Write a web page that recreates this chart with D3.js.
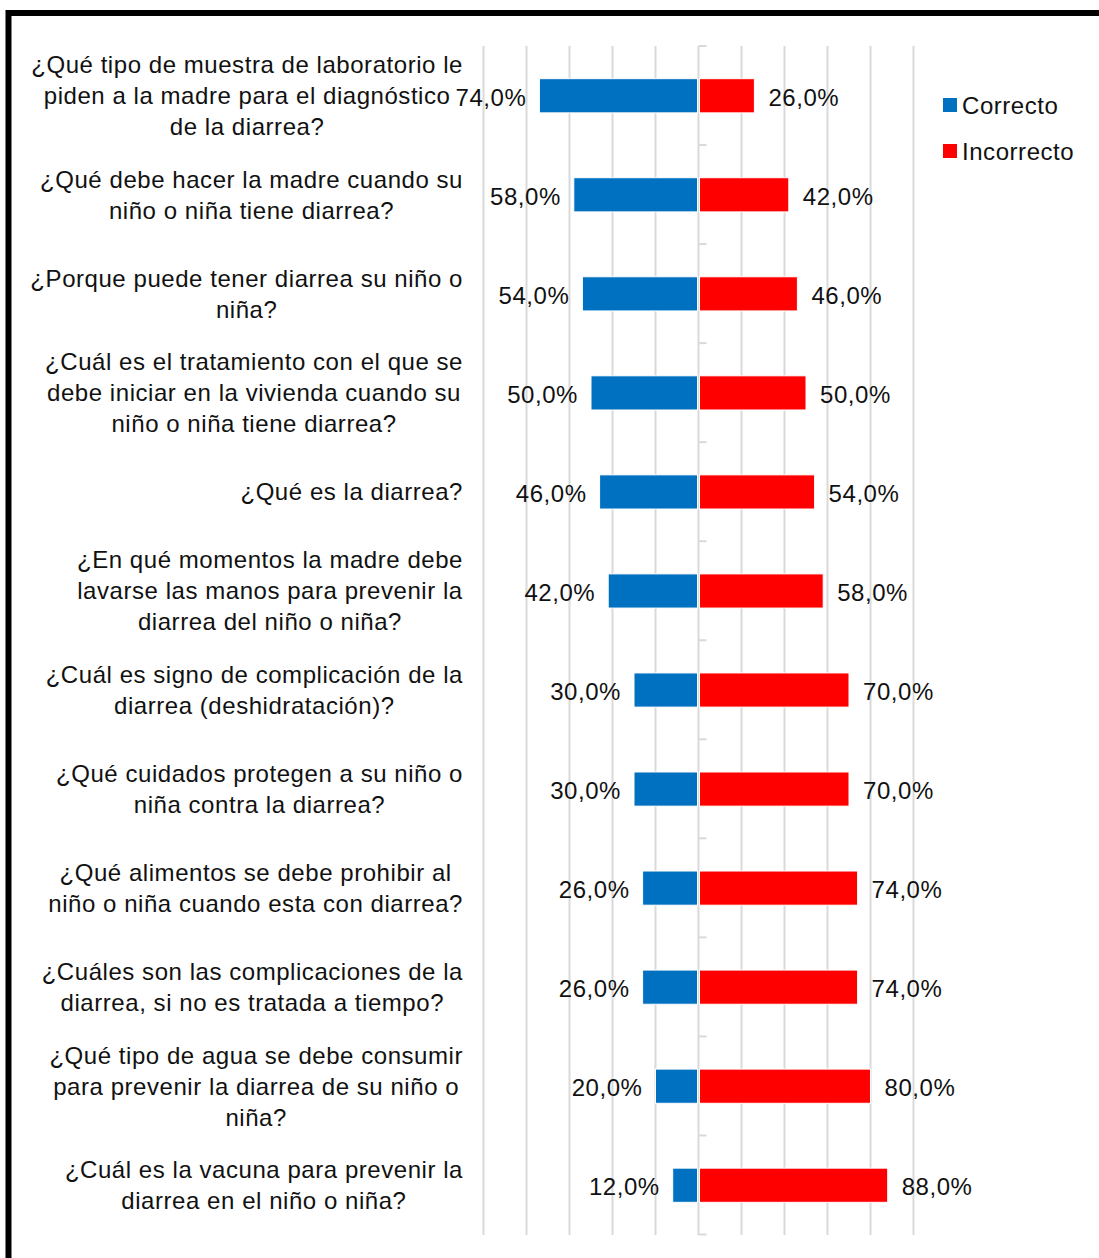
<!DOCTYPE html>
<html>
<head>
<meta charset="utf-8">
<script src="https://cdn.jsdelivr.net/npm/d3@7"></script>
<style>
  body { margin: 0; background: #fff; }
  text { font-family: "Liberation Sans", Arial, sans-serif; }
</style>
</head>
<body>
<div id="chart"></div>
<script>
// data
const questions = [
  ["¿Qué tipo de muestra de laboratorio le", "piden a la madre para el diagnóstico", "de la diarrea?"],
  ["¿Qué debe hacer la madre cuando su", "niño o niña tiene diarrea?"],
  ["¿Porque puede tener diarrea su niño o", "niña?"],
  ["¿Cuál es el tratamiento con el que se", "debe iniciar en la vivienda cuando su", "niño o niña tiene diarrea?"],
  ["¿Qué es la diarrea?"],
  ["¿En qué momentos la madre debe", "lavarse las manos para prevenir la", "diarrea del niño o niña?"],
  ["¿Cuál es signo de complicación de la", "diarrea (deshidratación)?"],
  ["¿Qué cuidados protegen a su niño o", "niña contra la diarrea?"],
  ["¿Qué alimentos se debe prohibir al", "niño o niña cuando esta con diarrea?"],
  ["¿Cuáles son las complicaciones de la", "diarrea, si no es tratada a tiempo?"],
  ["¿Qué tipo de agua se debe consumir", "para prevenir la diarrea de su niño o", "niña?"],
  ["¿Cuál es la vacuna para prevenir la", "diarrea en el niño o niña?"]
];
const correcto   = [74, 58, 54, 50, 46, 42, 30, 30, 26, 26, 20, 12];
const incorrecto = [26, 42, 46, 50, 54, 58, 70, 70, 74, 74, 80, 88];
const seriesNames = ["Correcto", "Incorrecto"];
const seriesColors = ["#0070C0", "#FF0000"];
const gridTicks = [-100, -80, -60, -40, -20, 0, 20, 40, 60, 80, 100];

const width = 1099, height = 1258;
const fmt = v => v.toFixed(1).replace(".", ",") + "%";

const svg = d3.select("#chart")
  .append("svg")
  .attr("width", width)
  .attr("height", height);

// outer frame
svg.append("path")
  .attr("d", `M8.5,${height + 10} V13 H${width + 10}`)
  .attr("fill", "none")
  .attr("stroke", "#000")
  .attr("stroke-width", 6);

const x = d3.scaleLinear()
  .domain([-100, 100])
  .range([483.5, 913.5]);

const y = d3.scaleBand()
  .domain(d3.range(questions.length))
  .range([46, 1235])
  .paddingInner(0.655)
  .paddingOuter(0.33);

const step = y.step();

// gridlines
svg.append("g")
  .selectAll("line")
  .data(gridTicks.filter(d => d !== 0))
  .join("line")
  .attr("x1", d => x(d))
  .attr("x2", d => x(d))
  .attr("y1", 46)
  .attr("y2", 1235)
  .attr("stroke", "#D9D9D9")
  .attr("stroke-width", 2);

// category axis at zero
const axisG = svg.append("g");
axisG.append("line")
  .attr("x1", x(0)).attr("x2", x(0))
  .attr("y1", 46).attr("y2", 1235)
  .attr("stroke", "#D9D9D9")
  .attr("stroke-width", 2);
axisG.selectAll(".tick")
  .data(d3.range(questions.length + 1))
  .join("line")
  .attr("class", "tick")
  .attr("x1", x(0)).attr("x2", x(0) + 8)
  .attr("y1", i => 46 + i * step)
  .attr("y2", i => 46 + i * step)
  .attr("stroke", "#D9D9D9")
  .attr("stroke-width", 2);

// bars
svg.append("g")
  .selectAll("rect")
  .data(correcto)
  .join("rect")
  .attr("x", d => x(-d))
  .attr("y", (d, i) => y(i))
  .attr("width", d => x(0) - x(-d) - 1)
  .attr("height", y.bandwidth())
  .attr("fill", seriesColors[0])
  .attr("stroke", "#fff")
  .attr("stroke-width", 1);

svg.append("g")
  .selectAll("rect")
  .data(incorrecto)
  .join("rect")
  .attr("x", x(0) + 1)
  .attr("y", (d, i) => y(i))
  .attr("width", d => x(d) - x(0) - 1)
  .attr("height", y.bandwidth())
  .attr("fill", seriesColors[1])
  .attr("stroke", "#fff")
  .attr("stroke-width", 1);

// value labels
const labelStyle = sel => sel
  .attr("font-size", 24)
  .attr("letter-spacing", 0.55)
  .attr("fill", "#111")
  .attr("dominant-baseline", "central");

svg.append("g")
  .selectAll("text")
  .data(correcto)
  .join("text")
  .attr("x", d => x(-d) - 13)
  .attr("y", (d, i) => y(i) + y.bandwidth() / 2 + 1.5)
  .attr("text-anchor", "end")
  .call(labelStyle)
  .text(fmt);

svg.append("g")
  .selectAll("text")
  .data(incorrecto)
  .join("text")
  .attr("x", d => x(d) + 14)
  .attr("y", (d, i) => y(i) + y.bandwidth() / 2 + 1.5)
  .attr("text-anchor", "start")
  .call(labelStyle)
  .text(fmt);

// category labels: block right-aligned, lines centred in block
const lineH = 31;
const labelRight = 463;
questions.forEach((lines, i) => {
  const g = svg.append("g");
  const cy = y(i) + y.bandwidth() / 2;
  const texts = g.selectAll("text")
    .data(lines)
    .join("text")
    .attr("y", (d, j) => cy + (j - (lines.length - 1) / 2) * lineH)
    .attr("text-anchor", "middle")
    .call(labelStyle)
    .text(d => d);
  let maxW = 0;
  texts.each(function() { maxW = Math.max(maxW, this.getComputedTextLength()); });
  texts.attr("x", labelRight - maxW / 2);
});

// legend
const legend = svg.append("g")
  .selectAll("g")
  .data(seriesNames)
  .join("g")
  .attr("transform", (d, i) => `translate(943, ${105 + i * 46})`);
legend.append("rect")
  .attr("x", 0).attr("y", -7)
  .attr("width", 14).attr("height", 14)
  .attr("fill", (d, i) => seriesColors[i]);
legend.append("text")
  .attr("x", 19).attr("y", 0)
  .call(labelStyle)
  .text(d => d);
</script>
</body>
</html>
